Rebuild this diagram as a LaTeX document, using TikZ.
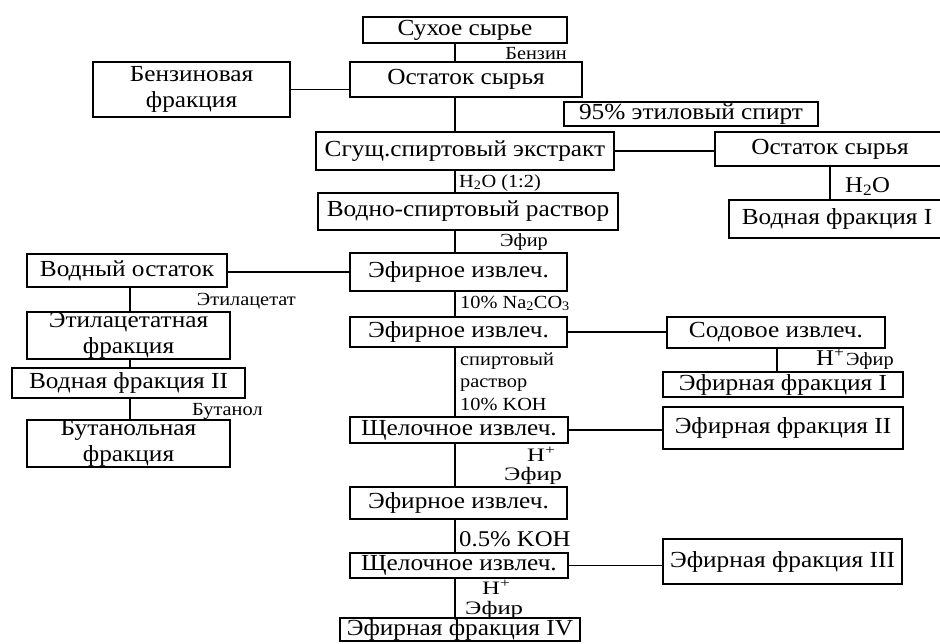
\documentclass[tikz,border=0pt]{standalone}
\usepackage{fontspec}
\setmainfont[FakeStretch=1.1]{Liberation Serif}
\newfontfamily\widefam[FakeStretch=1.3]{Liberation Serif}
\newcommand\boxfont{\fontsize{23}{26}\selectfont}
\newcommand\lblfont{\fontsize{18.5}{20}\selectfont}
\newcommand\midfont{\fontsize{22.5}{24}\selectfont}
\newcommand\widefont{\widefam\fontsize{19}{21}\selectfont}
\begin{document}
\begin{tikzpicture}[x=1pt,y=-1pt,
  box/.style={draw, line width=1.6pt, inner sep=0pt, align=center, font=\boxfont},
  conn/.style={line width=1.6pt},
  lbl/.style={inner sep=0pt, font=\lblfont},
  mlbl/.style={inner sep=0pt, font=\midfont},
  wlbl/.style={inner sep=0pt, font=\widefont},
]
\useasboundingbox (0,0) rectangle (940,643);
\fill[white] (0,0) rectangle (940,643);
\coordinate (mx) at (455,0);
\coordinate (lx) at (130,0);
\coordinate (rx) at (830,0);
\coordinate (sx) at (777,0);

% boxes
\node[box, minimum width=204pt, minimum height=26pt] (dry) at (465,30) {Сухое сырье};
\node[box, minimum width=232pt, minimum height=35pt] (ost1) at (466,79.5) {Остаток сырья};
\node[box, minimum width=197pt, minimum height=55pt] (benz) at (191.5,89.5) {Бензиновая\\фракция};
\node[box, minimum width=254pt, minimum height=24pt] (eth) at (691,114) {95\% этиловый спирт};
\node[box, minimum width=298pt, minimum height=38pt] (sgush) at (465,151) {Сгущ.спиртовый экстракт};
\node[box, minimum width=230pt, minimum height=34pt] (ost2) at (830,149) {Остаток сырья};
\node[box, minimum width=216pt, minimum height=38pt] (vodf1) at (837,219) {Водная фракция I};
\node[box, minimum width=300pt, minimum height=37pt] (vodsp) at (468,211.5) {Водно-спиртовый раствор};
\node[box, minimum width=217pt, minimum height=38pt] (ef1) at (458.5,272) {Эфирное извлеч.};
\node[box, minimum width=200pt, minimum height=33pt] (vodost) at (127,270.5) {Водный остаток};
\node[box, minimum width=203pt, minimum height=47pt] (etac) at (128.5,335.5) {Этилацетатная\\фракция};
\node[box, minimum width=233pt, minimum height=30pt] (vodf2) at (128.5,383) {Водная фракция II};
\node[box, minimum width=203pt, minimum height=47pt] (but) at (128.5,443.5) {Бутанольная\\фракция};
\node[box, minimum width=217pt, minimum height=30pt] (ef2) at (458.5,332) {Эфирное извлеч.};
\node[box, minimum width=218pt, minimum height=31pt] (sod) at (776,332.5) {Содовое извлеч.};
\node[box, minimum width=240pt, minimum height=25pt] (eff1) at (783,384.5) {Эфирная фракция I};
\node[box, minimum width=240pt, minimum height=42pt] (eff2) at (783,428) {Эфирная фракция II};
\node[box, minimum width=218pt, minimum height=26pt] (sch1) at (459,430) {Щелочное извлеч.};
\node[box, minimum width=217pt, minimum height=32pt] (ef3) at (458.5,503) {Эфирное извлеч.};
\node[box, minimum width=218pt, minimum height=25pt] (sch2) at (459,565.5) {Щелочное извлеч.};
\node[box, minimum width=239pt, minimum height=45pt] (eff3) at (782.5,561.5) {Эфирная фракция III};
\node[box, minimum width=240pt, minimum height=23pt] (eff4) at (460,629.5) {Эфирная фракция IV};

% connectors
\draw[conn] (dry.south -| mx) -- (ost1.north -| mx);
\draw[conn] (ost1.south -| mx) -- (sgush.north -| mx);
\draw[conn] (sgush.south -| mx) -- (vodsp.north -| mx);
\draw[conn] (vodsp.south -| mx) -- (ef1.north -| mx);
\draw[conn] (ef1.south -| mx) -- (ef2.north -| mx);
\draw[conn] (ef2.south -| mx) -- (sch1.north -| mx);
\draw[conn] (sch1.south -| mx) -- (ef3.north -| mx);
\draw[conn] (ef3.south -| mx) -- (sch2.north -| mx);
\draw[conn] (sch2.south -| mx) -- (eff4.north -| mx);
\draw[conn] (benz.east) -- (benz.east -| ost1.west);
\draw[conn] (sgush.east) -- (sgush.east -| ost2.west);
\draw[conn] (ost2.south -| rx) -- (vodf1.north -| rx);
\draw[conn] (ef1.west) -- (ef1.west -| vodost.east);
\draw[conn] (vodost.south -| lx) -- (etac.north -| lx);
\draw[conn] (etac.south -| lx) -- (vodf2.north -| lx);
\draw[conn] (vodf2.south -| lx) -- (but.north -| lx);
\draw[conn] (ef2.east) -- (ef2.east -| sod.west);
\draw[conn] (sod.south -| sx) -- (eff1.north -| sx);
\draw[conn] (sch1.east) -- (sch1.east -| eff2.west);
\draw[conn] (sch2.east) -- (sch2.east -| eff3.west);

% labels
\node[lbl, anchor=base east] (l1) at (567,59) {Бензин};
\node[lbl, anchor=base west] (l2) at (459,187) {H\textsubscript{2}O (1:2)};
\node[mlbl, anchor=base west] (l3) at (845,192) {H\textsubscript{2}O};
\node[lbl, anchor=base west] (l4) at (500,246) {Эфир};
\node[lbl, anchor=base east] (l5) at (296,305) {Этилацетат};
\node[lbl, anchor=base west] (l6) at (460,308) {10\% Na\textsubscript{2}CO\textsubscript{3}};
\node[lbl, anchor=base west] (l7) at (460,365) {спиртовый};
\node[lbl, anchor=base west] (l8) at (460,387) {раствор};
\node[lbl, anchor=base west] (l9) at (460,410) {10\% KOH};
\node[anchor=base west, inner sep=0pt] (l10) at (816,365) {{\midfont H\textsuperscript{+}}\,{\lblfont Эфир}};
\node[lbl, anchor=base west] (l11) at (192,415) {Бутанол};
\node[wlbl, anchor=base west] (l12) at (527,461) {H\textsuperscript{+}};
\node[wlbl, anchor=base west] (l13) at (504,480) {Эфир};
\node[mlbl, anchor=base west] (l14) at (459,546) {0.5\% KOH};
\node[wlbl, anchor=base west] (l15) at (482,594) {H\textsuperscript{+}};
\node[wlbl, anchor=base west] (l16) at (465,614) {Эфир};
\end{tikzpicture}
\end{document}
